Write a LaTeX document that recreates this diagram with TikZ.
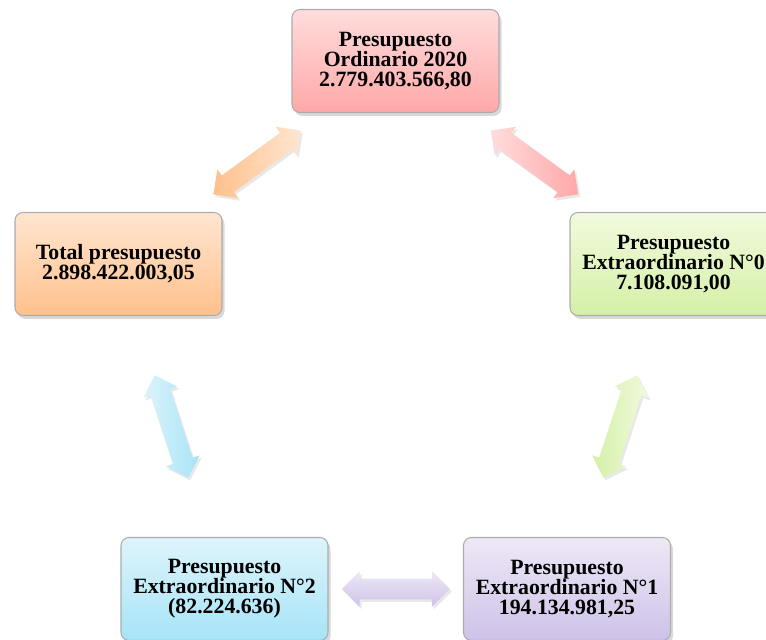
\documentclass[tikz,border=0pt]{standalone}
\usepackage{fontspec}
\setmainfont{Liberation Serif}
\usetikzlibrary{shapes.arrows, shadows}

\definecolor{rosaA}{RGB}{255,220,220}
\definecolor{rosaB}{RGB}{255,168,168}
\definecolor{naranjaA}{RGB}{255,230,208}
\definecolor{naranjaB}{RGB}{255,192,140}
\definecolor{verdeA}{RGB}{242,250,222}
\definecolor{verdeB}{RGB}{212,240,166}
\definecolor{celesteA}{RGB}{222,244,251}
\definecolor{celesteB}{RGB}{166,228,247}
\definecolor{lilaA}{RGB}{238,232,246}
\definecolor{lilaB}{RGB}{206,194,232}

\begin{document}
\begin{tikzpicture}[
  caja/.style={draw=gray!65, line width=0.6pt, rounded corners=0.16cm,
    minimum width=4.14cm, minimum height=2.06cm, align=center,
    font=\bfseries\fontsize{12.4}{11.4}\selectfont,
    drop shadow={opacity=0.3, shadow xshift=0.05cm, shadow yshift=-0.07cm}},
  flecha/.style={double arrow, double arrow head extend=0.15cm,
    inner sep=0.2cm, minimum height=2.16cm, draw=none,
    drop shadow={opacity=0.18, shadow xshift=0.04cm, shadow yshift=-0.05cm}}
]
\useasboundingbox (0,0) rectangle (15.32,12.78);

% cajas
\node[caja, top color=rosaA, bottom color=rosaB] (ord) at (7.91,11.56)
  {Presupuesto\\Ordinario 2020\\2.779.403.566,80};
\node[caja, top color=verdeA, bottom color=verdeB] (ext0) at (13.47,7.50)
  {Presupuesto\\Extraordinario N°0\\7.108.091,00};
\node[caja, top color=naranjaA, bottom color=naranjaB] (tot) at (2.37,7.50)
  {Total presupuesto\\2.898.422.003,05};
\node[caja, top color=celesteA, bottom color=celesteB] (ext2) at (4.49,1.00)
  {Presupuesto\\Extraordinario N°2\\(82.224.636)};
\node[caja, top color=lilaA, bottom color=lilaB] (ext1) at (11.34,1.00)
  {Presupuesto\\Extraordinario N°1\\194.134.981,25};

% flechas
\path (ord) -- (tot) node[flecha, midway, sloped, left color=naranjaB, right color=naranjaA] (f1) {};
\path (ord) -- (ext0) node[flecha, midway, sloped, left color=rosaA, right color=rosaB] (f2) {};
\path (tot) -- (ext2) node[flecha, midway, sloped, left color=celesteA, right color=celesteB] (f3) {};
\path (ext0) -- (ext1) node[flecha, midway, sloped, left color=verdeB, right color=verdeA] (f4) {};
\path (ext2) -- (ext1) node[flecha, midway, sloped, top color=lilaA, bottom color=lilaB] (f5) {};

\end{tikzpicture}
\end{document}
